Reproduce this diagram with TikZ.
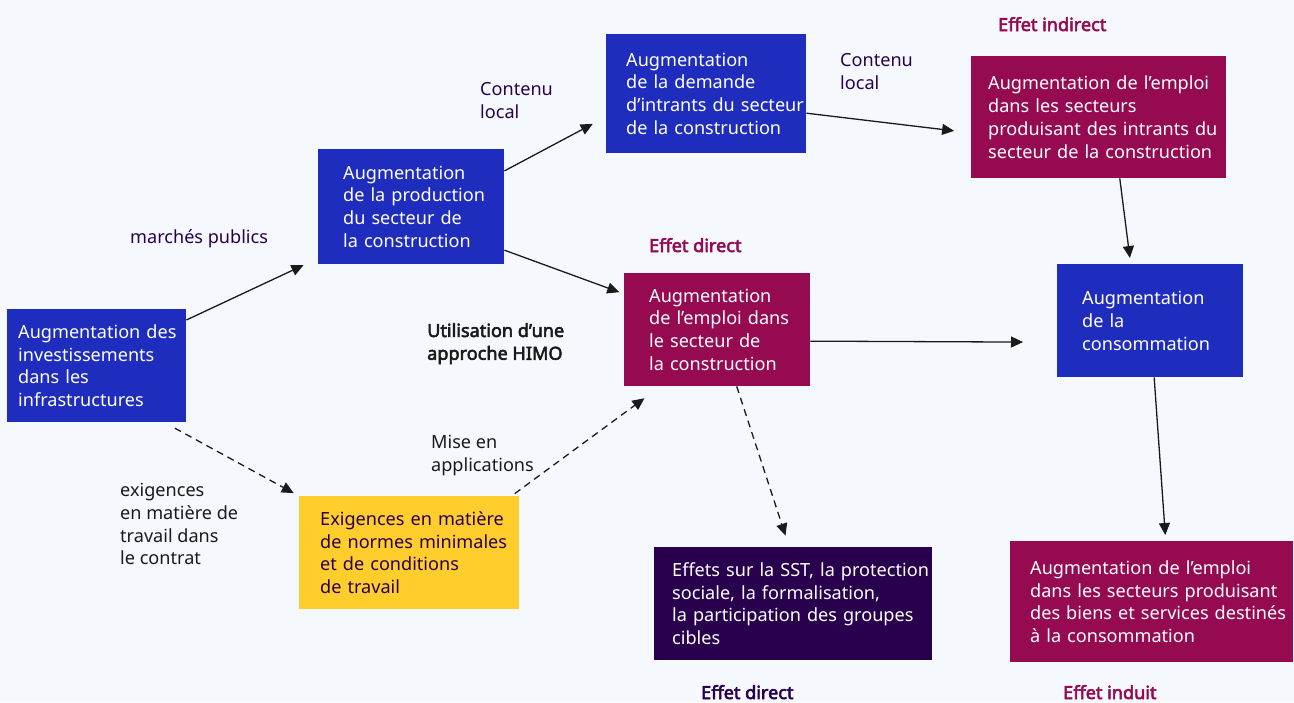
\documentclass[tikz,border=0pt]{standalone}
\usepackage{fontspec}
\setmainfont{Noto Sans}[AutoFakeBold=3]
\usetikzlibrary{arrows.meta}
\definecolor{bgc}{RGB}{245,249,253}
\definecolor{blu}{RGB}{31,45,190}
\definecolor{mag}{RGB}{150,10,82}
\definecolor{dpur}{RGB}{40,0,78}
\definecolor{yel}{RGB}{255,205,44}
\definecolor{ink}{RGB}{26,26,26}
\begin{document}
\begin{tikzpicture}[x=1pt,y=-1pt,
  txt/.style={font=\fontsize{18.1}{22.8}\selectfont, align=left, inner sep=0pt},
  box/.style={txt, rectangle, anchor=north west, text=white,
    execute at begin node={\leftskip=#1pt\rightskip=-30pt plus 1fil\hyphenpenalty=10000}},
  lbl/.style={txt, anchor=north west, text=dpur},
  eff/.style={txt, anchor=base west, text=mag, font=\fontsize{18.1}{22.8}\selectfont\bfseries},
  arr/.style={line width=1.3pt, draw=ink, -{Triangle[length=12pt,width=11pt]}},
  darr/.style={arr, dash pattern=on 7pt off 5pt}]
\fill[bgc] (0,0) rectangle (1294,702);
% boxes
\node[box=11, fill=blu, text width=179, minimum height=113] (inv) at (7,309)
  {Augmentation des\\investissements\\dans les\\infrastructures};
\node[box=25, fill=blu, text width=186, minimum height=115] (prod) at (318,149)
  {Augmentation\\de la production\\du secteur de\\la construction};
\node[box=20, fill=blu, text width=200, minimum height=119] (dem) at (606,34)
  {Augmentation\\de la demande\\d’intrants du secteur\\de la construction};
\node[box=17, fill=mag, text width=255, minimum height=122] (indir) at (971,56)
  {Augmentation de l’emploi\\dans les secteurs\\produisant des intrants du\\secteur de la construction};
\node[box=25, fill=mag, text width=186, minimum height=113] (emploi) at (624,273)
  {Augmentation\\de l’emploi dans\\le secteur de\\la construction};
\node[box=25, fill=blu, text width=186, minimum height=113] (conso) at (1057,264)
  {Augmentation\\de la\\consommation};
\node[box=21, fill=yel, text=dpur, text width=220, minimum height=113] (exig) at (299,496)
  {Exigences en matière\\de normes minimales\\et de conditions\\de travail};
\node[box=18, fill=dpur, text width=278, minimum height=113] (sst) at (654,547)
  {Effets sur la SST, la protection\\sociale, la formalisation,\\la participation des groupes\\cibles};
\node[box=20, fill=mag, text width=283, minimum height=121] (induit) at (1010,541)
  {Augmentation de l’emploi\\dans les secteurs produisant\\des biens et services destinés\\à la consommation};
% labels
\node[lbl] (cl1) at (480,82) {Contenu\\local};
\node[lbl] (cl2) at (840,53) {Contenu\\local};
\node[lbl, anchor=base west] (mp) at (130,243) {marchés publics};
\node[lbl, text=ink, font=\fontsize{18.1}{22.8}\selectfont\bfseries] (himo) at (427,323) {Utilisation d’une\\approche HIMO};
\node[lbl, text=ink] (mise) at (431,435) {Mise en\\applications};
\node[lbl, text=ink] (exc) at (120,483) {exigences\\en matière de\\travail dans\\le contrat};
\node[eff] (ei) at (998,31) {Effet indirect};
\node[eff] (ed1) at (649,252) {Effet direct};
\node[eff, text=dpur] (ed2) at (701,699) {Effet direct};
\node[eff] (eu) at (1063,699) {Effet induit};
% connectors
\draw[arr, shorten >=16pt] (inv.27) -- (prod.209);
\draw[arr, shorten >=15pt] (prod.21) -- (dem.193);
\draw[arr, shorten >=5pt] (prod.-25) -- (emploi.159);
\draw[arr, shorten >=17pt] (dem.-11) -- (indir.187);
\draw[arr, shorten >=6pt] (indir.-71) -- (conso.109);
\draw[arr, shorten >=34pt] (emploi.-7) -- (conso.193);
\draw[arr, shorten >=6pt] (conso.-86) -- (induit.77);
\draw[darr, shorten <=12pt, shorten >=6pt] (inv.-40) -- (exig.north west);
\draw[darr, shorten <=4pt, shorten >=20pt] (exig.29) -- (emploi.225);
\draw[darr, shorten >=12pt] (emploi.-71) -- (sst.94);
\end{tikzpicture}
\end{document}
